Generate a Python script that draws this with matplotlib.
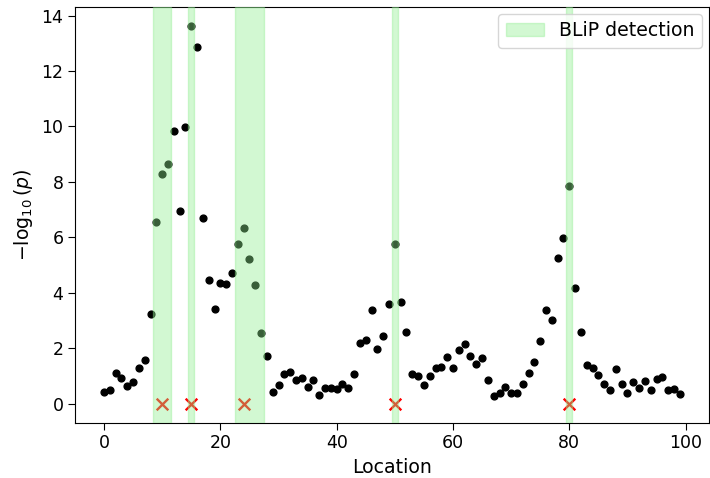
import numpy as np
import matplotlib
matplotlib.use("Agg")
import matplotlib.pyplot as plt

# -log10 p-values at each location 0..99
locations = np.arange(100)
neglogp = [0.41, 0.48, 1.11, 0.94, 0.65, 0.79, 1.30, 1.59, 3.24, 6.56,
           8.29, 8.64, 9.82, 6.94, 9.98, 13.62, 12.87, 6.68, 4.45, 3.43,
           4.37, 4.31, 4.73, 5.77, 6.35, 5.21, 4.29, 2.55, 1.72, 0.43,
           0.66, 1.08, 1.14, 0.87, 0.93, 0.60, 0.84, 0.31, 0.55, 0.55,
           0.53, 0.71, 0.57, 1.08, 2.19, 2.29, 3.38, 1.97, 2.43, 3.60,
           5.77, 3.66, 2.57, 1.07, 1.01, 0.66, 0.99, 1.27, 1.31, 1.70,
           1.30, 1.94, 2.14, 1.72, 1.43, 1.65, 0.87, 0.29, 0.37, 0.61,
           0.40, 0.40, 0.71, 1.11, 1.50, 2.26, 3.39, 3.02, 5.26, 5.98,
           7.86, 4.19, 2.59, 1.38, 1.30, 1.02, 0.70, 0.48, 1.24, 0.71,
           0.39, 0.78, 0.57, 0.83, 0.49, 0.89, 0.95, 0.51, 0.54, 0.34]

# true signal locations
signals = [10, 15, 24, 50, 80]

# BLiP detected regions (start, end)
regions = [(8.5, 11.5), (14.5, 15.5), (22.5, 27.5), (49.5, 50.5), (79.5, 80.5)]

fig, ax = plt.subplots(figsize=(7.1, 4.78), dpi=100)
fig.subplots_adjust(left=0.106, right=0.998, top=0.985, bottom=0.116)

ax.scatter(locations, neglogp, color='black', s=24, zorder=2)
ax.scatter(signals, np.zeros(len(signals)), color='red', marker='x', s=70,
           linewidths=1.7, zorder=2)

for i, (a, b) in enumerate(regions):
    ax.axvspan(a, b, color='lightgreen', alpha=0.4, zorder=3,
               label='BLiP detection' if i == 0 else None)

ax.set_xlabel('Location', fontsize=13.6, labelpad=4)
ax.set_ylabel(r'$-\log_{10}(p)$', fontsize=13.6, labelpad=5)
ax.tick_params(labelsize=12.5, length=5)
ax.legend(loc='upper right', fontsize=13.6, borderaxespad=0.35)

fig.savefig('out.png')
